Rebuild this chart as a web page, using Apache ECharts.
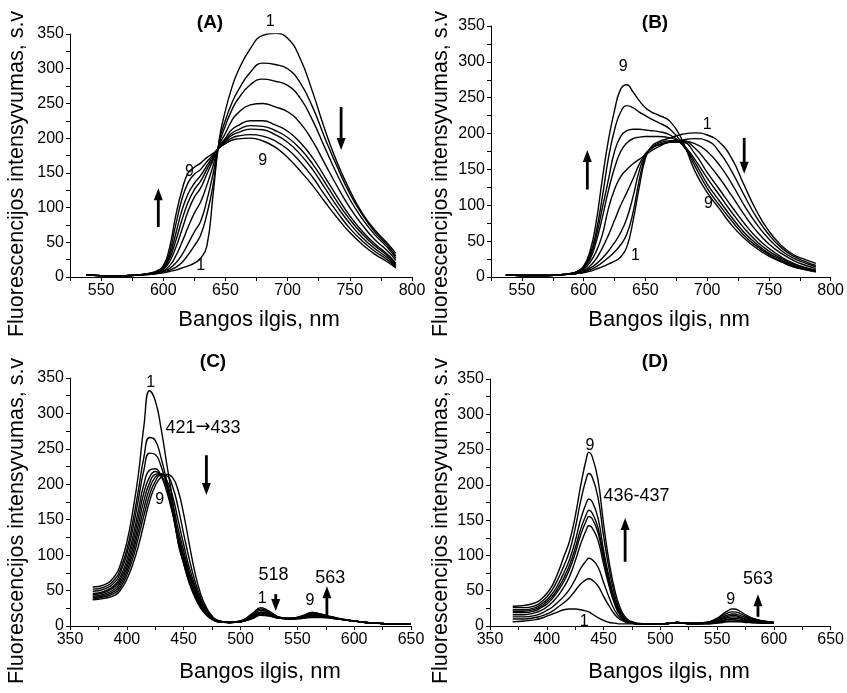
<!DOCTYPE html>
<html><head><meta charset="utf-8">
<script src="https://cdn.jsdelivr.net/npm/echarts@6/dist/echarts.min.js"></script>
<style>html,body{margin:0;padding:0;background:#fff}#c{width:847px;height:693px}</style>
</head><body><div id="c"></div>
<script>
// ---------- Panel A ----------
const xA = [538,550,560,570,580,590,595,600,605,610,615,620,625,630,635,640,645,650,655,660,670,680,690,700,710,720,730,740,750,760,770,780,787];
const A1 = [3,2,2,2,3,4,5,6,8,10,13,16,20,27,44,118,198, 240,272,296,329,348,351, 344,315,267,212,164,125,92,68,49,34];
const A2 = [3,2,2,2,3,4,5,7,10,14,21,32,45,60,90,132,195, 226,250,268,295,308,306, 300,280,245,200,158,120,90,65,46,30];
const A3 = [3,2,2,2,3,4,6,8,12,20,32,48,65,80,110,148,192, 218,240,256,277,285,282, 276,258,226,186,147,112,84,61,43,27];
const A4 = [3,2,2,2,3,5,6,9,16,30,50,72,92,108,132,160,190, 207,225,236,248,250,245, 238,222,196,163,130,100,75,54,38,24];
const A5 = [3,2,2,2,3,5,7,11,22,42,68,95,115,128,148,168,188, 200,212,218,225,225,219, 210,194,172,144,115,88,66,48,33,20];
const A6 = [3,2,2,2,3,5,7,12,26,52,82,108,126,138,155,171,188, 198,207,212,218,217,211, 201,185,163,136,108,83,62,45,31,18];
const A7 = [3,2,2,2,3,5,8,13,30,62,96,120,135,146,160,174,187, 196,204,208,213,212,205, 194,177,155,128,101,77,57,41,28,16];
const A8 = [3,2,2,2,3,5,8,14,35,75,112,136,148,155,166,176,187, 194,200,203,205,203,196, 184,166,144,118,93,70,52,37,25,14];
const A9 = [3,2,2,2,3,6,9,16,42,88,125,150,158,164,172,178,186, 192,197,199,200,196,187, 172,153,132,108,85,64,47,33,22,13];
// ---------- Panel B ----------
const xB = [537,550,560,570,580,590,595,600,605,610,615,620,625,630,635,640,645,650,655,660,670,680,690,700,710,720,730,740,750,760,770,780,788];
const B1 = [3,2,2,2,3,4,5,6,8,11,14,18,22,28,42,78,125, 165,182,188,194,199,201, 198,188,165,128,92,64,44,31,24,19];
const B2 = [3,2,2,2,3,4,5,7,10,14,20,27,35,45,60,90,135, 168,180,184,188,191,193, 190,174,147,114,83,59,41,29,21,16];
const B3 = [3,2,2,2,3,4,5,8,12,18,26,36,48,62,82,112,148, 170,179,184,188,189,186, 175,156,130,100,74,53,37,26,19,14];
const B4 = [3,2,2,2,3,4,6,9,15,25,40,58,79,100,118,137,157, 172,180,186,190,190,180, 160,138,113,87,64,46,33,23,16,12];
const B5 = [3,2,2,2,3,5,7,11,20,35,58,95,122,140,150,158,164, 170,176,181,188,188,172, 146,122,98,75,55,40,28,19,13,10];
const B6 = [3,2,2,2,3,5,7,12,24,48,82,120,152,175,187,193,195, 196,196,196,194,185,164, 138,114,90,68,50,36,26,18,12,9];
const B7 = [3,2,2,2,3,5,7,13,27,55,95,135,175,196,204,206,206, 205,204,203,198,184,160, 130,106,83,62,46,33,24,16,11,8];
const B8 = [3,2,2,2,3,5,8,14,30,62,110,165,205,230,239,236,230, 225,220,216,206,186,155, 124,100,78,58,43,31,22,15,10,8];
const B9 = [3,2,2,2,3,5,8,15,35,75,135,190,232,262,268,258,246, 236,230,226,217,190,148, 118,95,72,54,40,29,21,14,10,7];
// ---------- Panel C ----------
const xC = [370,380,390,395,400,405,410,415,420,425,430,435,440,445,450,455,460,465,470,475,480,490,500,510,518,525,535,545,555,563,570,580,590,600,610,620,630,640,650];
const C1 = [55,58,72,90,118,160,212,282,332,318,280,230,180,118,88,60,40,25,15,9,6, 5,7,17,26,21,12,10,11,12,12,11,9,7,5,4,3,3,3];
const C2 = [52,55,67,83,108,145,190,238,266,262,238,205,165,120,88,62,42,27,16,10,6, 5,7,16,24,20,12,10,11,13,13,11,9,7,5,4,3,3,3];
const C3 = [49,52,63,78,101,135,177,220,244,242,226,198,162,122,92,66,45,29,17,10,6, 5,6,15,22,19,12,10,12,14,13,11,9,7,5,4,3,3,3];
const C4 = [46,49,59,72,93,124,162,200,220,222,212,190,160,125,96,69,48,31,18,11,7, 5,6,14,20,18,11,10,12,15,14,12,9,7,5,4,3,3,3];
const C5 = [44,47,56,68,87,116,152,188,210,218,213,196,166,130,100,72,50,32,19,11,7, 5,6,13,19,17,11,10,13,16,15,12,9,7,5,4,3,3,3];
const C6 = [42,45,53,64,82,108,142,177,202,214,215,202,175,138,106,76,53,34,20,12,7, 5,6,12,18,16,11,10,13,17,15,12,9,7,5,4,3,3,3];
const C7 = [40,43,50,60,77,101,133,166,194,210,215,206,185,150,115,82,57,36,21,12,7, 5,6,11,17,15,11,11,14,18,16,12,9,7,5,4,3,3,3];
const C8 = [38,41,47,56,72,94,124,156,185,204,213,212,198,168,130,94,63,40,23,13,8, 5,6,11,16,15,11,11,14,19,17,13,9,7,5,4,3,3,3];
const C9 = [37,39,44,52,66,86,112,144,176,198,210,214,210,192,158,115,75,45,26,14,8, 5,6,10,15,14,11,11,15,19,17,13,10,7,5,4,3,3,3];
// ---------- Panel D ----------
const xD = [370,380,390,395,400,405,410,415,420,425,430,435,437,440,445,450,455,460,465,470,475,480,490,500,510,515,520,530,540,550,555,560,563,565,570,575,580,590,600];
const D1 = [6,7,9,11,14,17,20,23,24,24,23,21,20,17,12,8,5,4,3,3,3,3, 3,3,4,5,4,3,3,4,5,6,6,6,6,5,5,4,4];
const D2 = [10,10,12,14,17,21,27,33,40,50,60,66,67,65,57,42,28,16,9,5,4,3, 3,3,4,5,4,3,3,5,6,7,7,7,7,6,5,4,4];
const D3 = [13,13,15,18,22,27,34,42,52,66,82,93,96,94,84,62,40,22,11,6,4,3, 3,3,4,5,4,3,4,5,7,9,9,9,8,7,6,5,4];
const D4 = [16,16,19,22,27,34,43,55,70,92,117,137,142,139,122,88,56,30,14,7,4,3, 3,3,4,5,4,3,4,6,8,10,11,11,10,8,7,5,4];
const D5 = [19,19,22,26,31,39,50,63,80,103,130,150,155,152,133,95,60,32,15,7,5,3, 3,3,4,5,4,3,4,7,10,12,13,13,12,9,8,6,5];
const D6 = [21,21,24,28,34,42,54,68,86,110,138,159,164,160,140,100,63,34,16,8,5,3, 3,3,4,5,4,4,4,8,11,14,15,15,13,10,9,6,5];
const D7 = [23,23,26,31,37,46,59,75,94,120,152,175,180,176,154,108,68,37,18,8,5,3, 3,3,4,5,4,4,4,9,13,16,17,17,15,12,10,7,5];
const D8 = [26,26,29,34,41,52,67,85,106,138,178,210,216,211,183,128,80,43,20,9,5,3, 3,3,4,5,4,4,5,10,15,19,20,20,18,14,11,7,5];
const D9 = [28,29,33,38,46,58,76,98,120,155,200,238,246,240,208,145,90,50,24,11,6,4, 3,3,4,5,4,4,5,11,17,22,24,24,21,16,12,7,5];

const xTitle = 'Bangos ilgis, nm';
const yTitle = 'Fluorescencijos intensyvumas, s.v';
const panelTitles = ['(A)','(B)','(C)','(D)'];

const FONT = '"Liberation Sans", Arial, Helvetica, sans-serif';
const panels = [
  {x: xA, ys: [A1,A2,A3,A4,A5,A6,A7,A8,A9], grid: {left:70, top:34, width:342, height:243}, min:525, max:800},
  {x: xB, ys: [B1,B2,B3,B4,B5,B6,B7,B8,B9], grid: {left:491, top:26, width:340, height:251}, min:525, max:800},
  {x: xC, ys: [C1,C2,C3,C4,C5,C6,C7,C8,C9], grid: {left:70, top:378, width:341, height:248}, min:350, max:650},
  {x: xD, ys: [D1,D2,D3,D4,D5,D6,D7,D8,D9], grid: {left:490, top:379, width:342, height:247}, min:350, max:650}
];

const chart = echarts.init(document.getElementById('c'), null, {renderer:'canvas'});
const grids = [], xAxes = [], yAxes = [], series = [];
panels.forEach((p, i) => {
  grids.push(Object.assign({containLabel:false}, p.grid));
  xAxes.push({
    type:'value', gridIndex:i, min:p.min, max:p.max, interval:25,
    axisLine:{show:true, onZero:false, lineStyle:{color:'#000', width:1}},
    axisTick:{show:true, length:4, lineStyle:{color:'#000', width:1}},
    axisLabel:{color:'#000', fontSize:16, fontFamily:FONT, margin:6,
      formatter: v => (v % 50 === 0 ? String(v) : '')},
    splitLine:{show:false}
  });
  yAxes.push({
    type:'value', gridIndex:i, min:0, max:350, interval:25,
    axisLine:{show:true, onZero:false, lineStyle:{color:'#000', width:1}},
    axisTick:{show:true, length:4, lineStyle:{color:'#000', width:1}},
    axisLabel:{color:'#000', fontSize:16, fontFamily:FONT, margin:6,
      formatter: v => (v % 50 === 0 ? String(v) : '')},
    splitLine:{show:false}
  });
  p.ys.forEach(arr => {
    series.push({
      type:'line', xAxisIndex:i, yAxisIndex:i,
      data: p.x.map((v, k) => [v, arr[k]]),
      showSymbol:false, symbol:'none', smooth:0.5,
      lineStyle:{color:'#000', width:1.4}, silent:true
    });
  });
});

chart.setOption({
  animation:false, backgroundColor:'#fff',
  grid:grids, xAxis:xAxes, yAxis:yAxes, series:series
});

// annotations in data coordinates
const labels = [
  {g:0, t:'1', x:686, y:368}, {g:0, t:'9', x:621, y:152}, {g:0, t:'1', x:630, y:16}, {g:0, t:'9', x:680, y:168},
  {g:1, t:'9', x:632, y:293}, {g:1, t:'1', x:700, y:212}, {g:1, t:'9', x:701, y:102}, {g:1, t:'1', x:642, y:30},
  {g:2, t:'1', x:421, y:343}, {g:2, t:'9', x:429, y:178}, {g:2, t:'421{a|\u2192}433', x:467, y:280, big:true},
  {g:2, t:'518', x:529, y:72, big:true}, {g:2, t:'1', x:519, y:38}, {g:2, t:'9', x:561, y:36}, {g:2, t:'563', x:579, y:67, big:true},
  {g:3, t:'9', x:438, y:255}, {g:3, t:'436-437', x:479, y:184, big:true}, {g:3, t:'1', x:433, y:6},
  {g:3, t:'9', x:562, y:38}, {g:3, t:'563', x:586, y:66, big:true}
];
const arrows = [
  {g:0, x:596, from:72, to:128}, {g:0, x:743, from:245, to:183},
  {g:1, x:603, from:122, to:177}, {g:1, x:730, from:194, to:144},
  {g:2, x:470, from:241, to:185}, {g:2, x:531, from:45, to:21}, {g:2, x:576, from:15, to:56},
  {g:3, x:469, from:91, to:153}, {g:3, x:586, from:13, to:45}
];

const gr = [];
labels.forEach(l => {
  const p = chart.convertToPixel({gridIndex:l.g}, [l.x, l.y]);
  const font = (l.big ? '18px ' : '16px ') + FONT;
  gr.push({type:'text', x:p[0], y:p[1], silent:true, style:{text:l.t, font:font,
    fill:'#000', align:'center', verticalAlign:'middle', textAlign:'center', textVerticalAlign:'middle',
    rich:{a:{font:'18px "DejaVu Sans", sans-serif', fill:'#000'}}}});
});
arrows.forEach(a => {
  const p0 = chart.convertToPixel({gridIndex:a.g}, [a.x, a.from]);
  const p1 = chart.convertToPixel({gridIndex:a.g}, [a.x, a.to]);
  const dir = p1[1] < p0[1] ? -1 : 1; // -1 up
  const headLen = 12, half = 4.5;
  const baseY = p1[1] - dir*headLen;
  gr.push({type:'line', silent:true, shape:{x1:p0[0], y1:p0[1], x2:p0[0], y2:baseY + dir*1},
    style:{stroke:'#000', lineWidth:2.8}});
  gr.push({type:'polygon', silent:true, shape:{points:[[p1[0], p1[1]], [p1[0]-half, baseY], [p1[0]+half, baseY]]},
    style:{fill:'#000'}});
});
// panel titles
[[210,23],[655,23],[213,362],[655,362]].forEach((c, i) => {
  gr.push({type:'text', x:c[0], y:c[1], silent:true, style:{text:panelTitles[i], font:'bold 19px '+FONT,
    fill:'#000', align:'center', verticalAlign:'middle', textAlign:'center', textVerticalAlign:'middle'}});
});
// axis titles
[[259,320],[669,320],[260,672],[669,672]].forEach(c => {
  gr.push({type:'text', x:c[0], y:c[1], silent:true, style:{text:xTitle, font:'22px '+FONT,
    fill:'#000', align:'center', verticalAlign:'middle', textAlign:'center', textVerticalAlign:'middle'}});
});
[[17,174],[441,174],[17,521],[441,521]].forEach(c => {
  gr.push({type:'text', x:c[0], y:c[1], rotation:Math.PI/2, silent:true, style:{text:yTitle, font:'21.5px '+FONT,
    fill:'#000', align:'center', verticalAlign:'middle', textAlign:'center', textVerticalAlign:'middle'}});
});
chart.setOption({graphic:{elements:gr}});
</script></body></html>
